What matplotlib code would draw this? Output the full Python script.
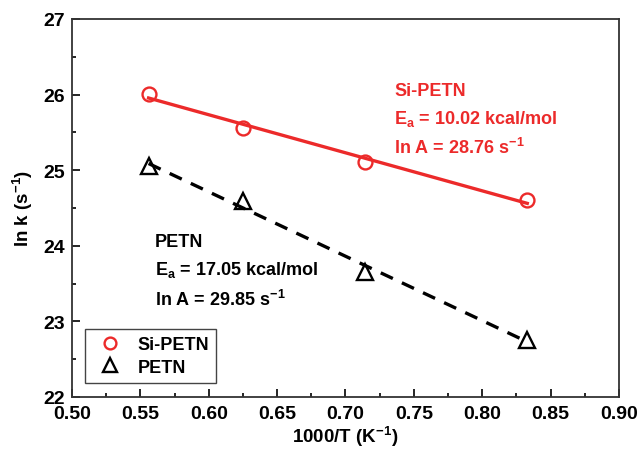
import numpy as np
import matplotlib.pyplot as plt
from matplotlib.ticker import MultipleLocator

# data
x_si = [0.556, 0.625, 0.714, 0.833]
y_si = [26.01, 25.56, 25.11, 24.60]
x_petn = [0.556, 0.625, 0.714, 0.833]
y_petn = [25.06, 24.59, 23.65, 22.76]

plt.rcParams['font.family'] = 'Liberation Sans'
plt.rcParams['font.weight'] = 'bold'
plt.rcParams['mathtext.fontset'] = 'custom'
plt.rcParams['mathtext.rm'] = 'Liberation Sans:bold'
plt.rcParams['mathtext.it'] = 'Liberation Sans:bold'
plt.rcParams['mathtext.default'] = 'rm'

red = '#ec2a2a'

fig = plt.figure(figsize=(6.4, 4.52), dpi=100)
ax = fig.add_axes([0.1125, 0.1195, 0.8545, 0.8365])

# linear fits
p_si = np.polyfit(x_si, y_si, 1)
p_petn = np.polyfit(x_petn, y_petn, 1)
xs = np.array([x_si[0], x_si[-1]])
ax.plot(xs, np.polyval(p_si, xs), color=red, lw=2.4)
ax.plot(xs, np.polyval(p_petn, xs), color='black', lw=2.4, ls=(0, (4, 3)))

ax.plot(x_si, y_si, 'o', ms=10, mfc='none', mec=red, mew=1.7, label='Si-PETN')
ax.plot(x_petn, y_petn, '^', ms=12, mfc='none', mec='black', mew=1.7, label='PETN')

# annotations
fs = 13
ax.text(0.7355, 26.0, 'Si-PETN', color=red, fontsize=fs, fontweight='bold')
ax.text(0.7355, 25.62, r'E$_a$ = 10.02 kcal/mol', color=red, fontsize=fs)
ax.text(0.7355, 25.22, r'ln A = 28.76 s$^{-1}$', color=red, fontsize=fs)

ax.text(0.5607, 24.0, 'PETN', color='black', fontsize=fs, fontweight='bold')
ax.text(0.5607, 23.62, r'E$_a$ = 17.05 kcal/mol', color='black', fontsize=fs)
ax.text(0.5607, 23.22, r'ln A = 29.85 s$^{-1}$', color='black', fontsize=fs)

ax.set_xlim(0.50, 0.90)
ax.set_ylim(22, 27)
ax.xaxis.set_minor_locator(MultipleLocator(0.025))
ax.yaxis.set_major_locator(MultipleLocator(1))
ax.yaxis.set_minor_locator(MultipleLocator(0.5))
ticks_x = np.arange(0.50, 0.901, 0.05)
ax.set_xticks(ticks_x)
ax.set_xticklabels(['%.2f' % v for v in ticks_x])
ax.tick_params(axis='both', which='both', direction='in', top=False, right=False,
               labelsize=14, width=1.2)
ax.tick_params(axis='x', pad=6)
ax.tick_params(axis='y', pad=5)
ax.tick_params(which='major', length=6)
ax.tick_params(which='minor', length=3)
for lab in ax.get_xticklabels() + ax.get_yticklabels():
    lab.set_fontweight('bold')
for s in ax.spines.values():
    s.set_linewidth(1.3)
    s.set_color('#333333')

ax.set_xlabel(r'1000/T (K$^{-1}$)', fontsize=13.5, fontweight='bold', labelpad=1)
ax.set_ylabel(r'ln k (s$^{-1}$)', fontsize=13.5, fontweight='bold', labelpad=6)

leg = ax.legend(loc='lower left', bbox_to_anchor=(0.024, 0.037), borderaxespad=0,
                fontsize=13, frameon=True, fancybox=False, edgecolor='#444444',
                framealpha=1, handletextpad=0.6, borderpad=0.4, labelspacing=0.3,
                markerscale=0.85, handlelength=1.9)
leg.get_frame().set_linewidth(1.0)

plt.savefig('out.png', dpi=100)
